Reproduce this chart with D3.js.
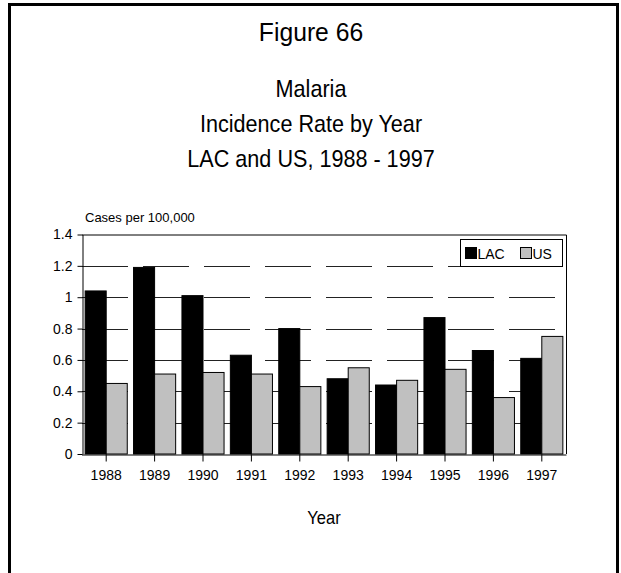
<!DOCTYPE html>
<html>
<head>
<meta charset="utf-8">
<script src="https://cdn.jsdelivr.net/npm/d3@7"></script>
<style>
  body { margin: 0; background: #fff; }
  text { font-family: "Liberation Sans", Arial, sans-serif; fill: #000; }
</style>
</head>
<body>
<div id="chart"></div>
<script>
const years = ["1988", "1989", "1990", "1991", "1992", "1993", "1994", "1995", "1996", "1997"];
const lacValues = [1.04, 1.19, 1.01, 0.63, 0.80, 0.48, 0.44, 0.87, 0.66, 0.61];
const usValues = [0.45, 0.51, 0.52, 0.51, 0.43, 0.55, 0.47, 0.54, 0.36, 0.75];
const yTicks = [0, 0.2, 0.4, 0.6, 0.8, 1, 1.2, 1.4];
const seriesNames = ["LAC", "US"];
const seriesColors = ["#000000", "#c0c0c0"];
const titleLines = ["Malaria", "Incidence Rate by Year", "LAC and US, 1988 - 1997"];

const W = 621, H = 573;
const plot = {left: 82, right: 566, top: 234.5, bottom: 454};

const svg = d3.select("#chart").append("svg")
  .attr("width", W)
  .attr("height", H);

svg.append("rect").attr("width", W).attr("height", H).attr("fill", "#fff");

// page frame (no bottom edge)
svg.append("path")
  .attr("d", `M9.5,${H} V4.5 H617.5 V${H}`)
  .attr("fill", "none")
  .attr("stroke", "#000")
  .attr("stroke-width", 3);

svg.append("text")
  .attr("transform", "translate(311,41) scale(0.95,1)")
  .attr("text-anchor", "middle")
  .style("font-size", "26px")
  .text("Figure 66");

// titles look slightly condensed in the original
svg.selectAll(".subtitle")
  .data(titleLines)
  .enter().append("text")
  .attr("class", "subtitle")
  .attr("transform", (d, i) => `translate(311,${97 + i * 35}) scale(0.9,1)`)
  .attr("text-anchor", "middle")
  .style("font-size", "24px")
  .text(d => d);

const x = d3.scaleBand()
  .domain(years)
  .range([plot.left, plot.right])
  .paddingInner(0.13)
  .paddingOuter(0.065);

const x1 = d3.scaleBand()
  .domain(seriesNames)
  .range([0, x.bandwidth()]);

const y = d3.scaleLinear()
  .domain([0, 1.4])
  .range([plot.bottom, plot.top]);

// dashed gridlines
svg.append("g")
  .selectAll("line")
  .data(yTicks.filter(t => t > 0 && t < 1.4))
  .enter().append("line")
  .attr("x1", plot.left).attr("x2", plot.right)
  .attr("y1", d => Math.round(y(d)) + 0.5)
  .attr("y2", d => Math.round(y(d)) + 0.5)
  .attr("stroke", "#222")
  .attr("stroke-width", 1)
  .attr("stroke-dasharray", "46,15");

// bars
const data = years.map((yr, i) => ({year: yr, values: [lacValues[i], usValues[i]]}));

const groups = svg.append("g")
  .selectAll("g")
  .data(data)
  .enter().append("g")
  .attr("transform", d => `translate(${x(d.year)},0)`);

groups.selectAll("rect")
  .data(d => d.values.map((v, i) => ({name: seriesNames[i], value: v, color: seriesColors[i]})))
  .enter().append("rect")
  .attr("x", d => x1(d.name))
  .attr("y", d => y(d.value))
  .attr("width", x1.bandwidth())
  .attr("height", d => y(0) - y(d.value))
  .attr("fill", d => d.color)
  .attr("stroke", "#000")
  .attr("stroke-width", 1);

// plot box top & right
svg.append("path")
  .attr("d", `M${plot.left},${plot.top + 0.5} H${plot.right + 0.5} V${plot.bottom}`)
  .attr("fill", "none")
  .attr("stroke", "#000")
  .attr("stroke-width", 1);

// y axis
const yAxis = svg.append("g")
  .attr("transform", `translate(${plot.left + 0.5},0)`)
  .call(d3.axisLeft(y).tickValues(yTicks).tickFormat(d3.format("~g")).tickSize(5).tickSizeOuter(0).tickPadding(5));
yAxis.selectAll("text").style("font-size", "14px").style("font-family", "Liberation Sans, Arial, sans-serif");
yAxis.selectAll("line, path").attr("stroke", "#000");

// x axis
const xAxis = svg.append("g")
  .attr("transform", `translate(0,${plot.bottom + 0.5})`)
  .call(d3.axisBottom(x).tickSize(7).tickSizeOuter(0).tickPadding(9));
xAxis.select(".domain").attr("d", `M${plot.left},0.5H${plot.right + 0.5}`);
xAxis.selectAll("text").style("font-size", "14px").style("font-family", "Liberation Sans, Arial, sans-serif");
xAxis.selectAll("line, path").attr("stroke", "#000");

svg.append("text")
  .attr("x", 85).attr("y", 222)
  .style("font-size", "13px")
  .text("Cases per 100,000");

svg.append("text")
  .attr("transform", "translate(324,524) scale(0.92,1)")
  .attr("text-anchor", "middle")
  .style("font-size", "18px")
  .text("Year");

// legend
const legend = svg.append("g").attr("transform", "translate(460.5,239.5)");
legend.append("rect")
  .attr("width", 102).attr("height", 27)
  .attr("fill", "#fff").attr("stroke", "#000");
const items = legend.selectAll(".item")
  .data(seriesNames)
  .enter().append("g")
  .attr("class", "item")
  .attr("transform", (d, i) => `translate(${5 + i * 55},8)`);
items.append("rect")
  .attr("width", 11).attr("height", 11)
  .attr("fill", (d, i) => seriesColors[i])
  .attr("stroke", "#000");
items.append("text")
  .attr("x", 12).attr("y", 11)
  .style("font-size", "14px")
  .text(d => d);
</script>
</body>
</html>
